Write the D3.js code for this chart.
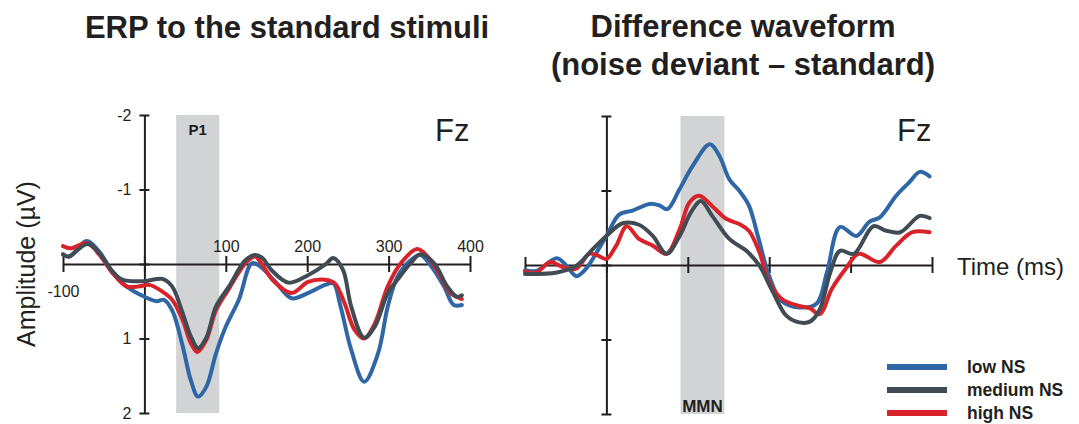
<!DOCTYPE html>
<html>
<head>
<meta charset="utf-8">
<script src="https://cdn.jsdelivr.net/npm/d3@7"></script>
<style>
  body { margin: 0; background: #fff; }
  text { font-family: "Liberation Sans", Arial, sans-serif; fill: #231f20; }
</style>
</head>
<body>
<div id="graph"></div>
<script>
// --- data (time in ms, amplitude in µV; negative plotted upward) ---
var seriesNames = [ 'low NS', 'medium NS', 'high NS' ];
var colours     = [ '#2f67a6', '#414b54', '#d9232a' ];

var timeTicks = [ -100, 0, 100, 200, 300, 400 ];
var ampTicks  = [ -2, -1, 0, 1, 2 ];

var erpLow = [ [-100,-0.13],[-92,-0.1],[-71,-0.31],[-55,-0.16],[-39,0.12],[-22,0.3],[0,0.44],[15,0.5],[24,0.48],
               [34,0.62],[47,1.1],[57,1.56],[66,1.78],[76,1.65],[88,1.2],[100,0.84],[116,0.48],[132,-0.01],[142,0.03],
               [161,0.24],[181,0.46],[201,0.39],[222,0.28],[232,0.26],[241,0.57],[254,1.15],[270,1.58],[287,1.2],
               [299,0.57],[311,0.17],[327,-0.05],[339,-0.12],[351,0.01],[368,0.3],[380,0.55],[390,0.55] ];
var erpMed = [ [-100,-0.13],[-93,-0.1],[-70,-0.27],[-55,-0.14],[-39,0.1],[-27,0.21],[0,0.23],[22,0.2],[34,0.3],
               [47,0.66],[57,0.97],[66,1.13],[76,0.99],[88,0.57],[104,0.3],[124,-0.05],[136,-0.12],[145,-0.08],
               [156,0.08],[177,0.25],[201,0.15],[222,0.01],[232,-0.08],[244,0.08],[254,0.57],[270,0.99],[283,0.84],
               [299,0.39],[311,0.21],[327,-0.01],[339,-0.13],[356,-0.01],[372,0.3],[384,0.44],[390,0.42] ];
var erpHigh = [ [-100,-0.24],[-91,-0.21],[-70,-0.28],[-55,-0.12],[-39,0.12],[-22,0.3],[-6,0.3],[6,0.28],[22,0.37],
                [34,0.48],[47,0.75],[57,1.06],[65,1.18],[76,1.02],[88,0.62],[104,0.33],[124,-0.01],[136,-0.1],[143,-0.02],
                [158,0.22],[181,0.39],[201,0.24],[222,0.21],[234,0.26],[246,0.53],[258,0.88],[270,1.0],[283,0.8],
                [299,0.3],[315,-0.01],[335,-0.2],[348,-0.1],[364,0.17],[376,0.39],[390,0.47] ];

var diffLow = [ [-100,0.07],[-86,0.08],[-61,-0.09],[-49,0.01],[-37,0.15],[-25,0.05],[-12,-0.17],[0,-0.39],[16,-0.68],
                [32,-0.73],[53,-0.82],[65,-0.8],[75,-0.75],[90,-1.02],[106,-1.33],[127,-1.62],[139,-1.46],[151,-1.15],
                [163,-1.0],[175,-0.8],[187,-0.35],[200,0.15],[215,0.48],[237,0.57],[258,0.52],[271,0.1],[287,-0.51],
                [307,-0.39],[323,-0.58],[336,-0.64],[356,-0.93],[372,-1.11],[385,-1.25],[397,-1.19] ];
var diffMed = [ [-100,0.12],[-61,0.1],[-37,0.01],[-17,-0.21],[0,-0.39],[20,-0.56],[40,-0.54],[57,-0.39],[74,-0.15],
                [90,-0.39],[104,-0.71],[116,-0.86],[130,-0.66],[151,-0.35],[172,-0.19],[188,0.01],[204,0.35],[221,0.68],
                [237,0.77],[250,0.76],[262,0.6],[275,0.1],[287,-0.19],[304,-0.15],[328,-0.52],[344,-0.46],[361,-0.44],
                [385,-0.66],[397,-0.63] ];
var diffHigh = [ [-100,0.09],[-86,0.1],[-69,-0.04],[-53,0.03],[-37,0.05],[-21,-0.15],[-9,-0.12],[0,-0.08],[12,-0.26],
                 [25,-0.52],[40,-0.35],[57,-0.26],[74,-0.15],[90,-0.48],[102,-0.84],[114,-0.93],[130,-0.79],[147,-0.62],
                 [163,-0.55],[175,-0.46],[188,-0.17],[200,0.23],[216,0.46],[237,0.55],[250,0.58],[262,0.66],[277,0.32],
                 [294,0.05],[310,-0.15],[336,-0.04],[356,-0.26],[376,-0.44],[397,-0.44] ];

var p1Window  = [ 39, 92 ];
var mmnWindow = [ 91, 145 ];

// --- layout ---
var svg = d3.select('#graph').append('svg')
            .attr('width', 1079)
            .attr('height', 424);

function drawPanel (opts)
{
    var x = d3.scaleLinear().domain([ -100, 400 ]).range(opts.xRange);
    var y = d3.scaleLinear().domain([ -2, 2 ]).range(opts.yRange);
    var g = svg.append('g');

    // shaded window
    g.append('rect')
     .attr('x', x(opts.win[0]))
     .attr('y', y(-2))
     .attr('width', x(opts.win[1]) - x(opts.win[0]))
     .attr('height', y(2) - y(-2))
     .attr('fill', '#d2d3d5');

    g.append('text')
     .attr('x', (x(opts.win[0]) + x(opts.win[1])) / 2)
     .attr('y', opts.winLabelY)
     .attr('text-anchor', 'middle')
     .attr('font-weight', 'bold')
     .attr('font-size', opts.winLabelSize + 'px')
     .text(opts.winLabel);

    // x axis (crossing ticks)
    var xAxis = d3.axisBottom(x)
                  .tickValues(timeTicks)
                  .tickSize(8)
                  .tickSizeOuter(0)
                  .tickFormat(opts.xLabels ? function (d) { return d; } : '');
    var gx = g.append('g')
              .attr('transform', 'translate(0,' + y(0) + ')')
              .call(xAxis);
    gx.select('.domain').attr('stroke', '#231f20').attr('stroke-width', 2);
    gx.selectAll('.tick line').attr('y1', -8).attr('y2', 8).attr('stroke', '#231f20').attr('stroke-width', 2);
    gx.selectAll('.tick text')
      .attr('font-size', '16px')
      .attr('font-family', '"Liberation Sans", Arial, sans-serif')
      .attr('fill', '#333')
      .attr('y', function (d) { return d < 0 ? 22 : -12; })
      .attr('dy', function (d) { return d < 0 ? '0.71em' : '0'; })
      .filter(function (d) { return d === 0; }).remove();

    // y axis (crossing ticks)
    var yAxis = d3.axisLeft(y)
                  .tickValues(ampTicks)
                  .tickSize(5)
                  .tickSizeOuter(0)
                  .tickFormat(opts.yLabels ? function (d) { return d; } : '');
    var gy = g.append('g')
              .attr('transform', 'translate(' + x(0) + ',0)')
              .call(yAxis);
    gy.select('.domain').attr('stroke', '#231f20').attr('stroke-width', 2);
    gy.selectAll('.tick line').attr('x1', 5).attr('x2', -5).attr('stroke', '#231f20').attr('stroke-width', 2);
    gy.selectAll('.tick text')
      .attr('font-size', '16px')
      .attr('font-family', '"Liberation Sans", Arial, sans-serif')
      .attr('fill', '#333')
      .attr('x', -13)
      .filter(function (d) { return d === 0; }).remove();

    // waveforms
    var line = d3.line()
                 .x(function (d) { return x(d[0]); })
                 .y(function (d) { return y(d[1]); })
                 .curve(d3.curveCatmullRom.alpha(0.5));

    // draw order: blue, red, gray on top like the source
    [ 0, 2, 1 ].forEach(function (i) {
        g.append('path')
         .datum(opts.series[i])
         .attr('d', line)
         .attr('fill', 'none')
         .attr('stroke', colours[i])
         .attr('stroke-width', 4)
         .attr('stroke-linejoin', 'round')
         .attr('stroke-linecap', 'round');
    });

    // electrode label
    g.append('text')
     .attr('x', opts.fzX)
     .attr('y', 141)
     .attr('font-size', '31px')
     .text('Fz');

    return { x: x, y: y };
}

drawPanel({
    xRange: [ 63, 470 ], yRange: [ 115, 413 ],
    win: p1Window, winLabel: 'P1', winLabelY: 135, winLabelSize: 15,
    xLabels: true, yLabels: true,
    series: [ erpLow, erpMed, erpHigh ],
    fzX: 435
});

drawPanel({
    xRange: [ 525, 932 ], yRange: [ 116, 414 ],
    win: mmnWindow, winLabel: 'MMN', winLabelY: 412, winLabelSize: 17,
    xLabels: false, yLabels: false,
    series: [ diffLow, diffMed, diffHigh ],
    fzX: 897
});

// titles
svg.append('text')
   .attr('x', 287).attr('y', 38)
   .attr('text-anchor', 'middle')
   .attr('font-weight', 'bold')
   .attr('font-size', '31px')
   .text('ERP to the standard stimuli');

svg.append('text')
   .attr('x', 743).attr('y', 37)
   .attr('text-anchor', 'middle')
   .attr('font-weight', 'bold')
   .attr('font-size', '31px')
   .text('Difference waveform');

svg.append('text')
   .attr('x', 743).attr('y', 75)
   .attr('text-anchor', 'middle')
   .attr('font-weight', 'bold')
   .attr('font-size', '31px')
   .text('(noise deviant \u2013 standard)');

// axis titles
svg.append('text')
   .attr('transform', 'translate(35,264) rotate(-90)')
   .attr('text-anchor', 'middle')
   .attr('font-size', '25px')
   .text('Amplitude (\u00b5V)');

svg.append('text')
   .attr('x', 957).attr('y', 275)
   .attr('font-size', '24px')
   .text('Time (ms)');

// legend
var legend = svg.append('g');
seriesNames.forEach(function (name, i) {
    var ly = 367 + i * 23;
    legend.append('line')
          .attr('x1', 887).attr('x2', 947)
          .attr('y1', ly).attr('y2', ly)
          .attr('stroke', colours[i])
          .attr('stroke-width', 6);
    legend.append('text')
          .attr('x', 967).attr('y', ly + 6)
          .attr('font-weight', 'bold')
          .attr('font-size', '17.5px')
          .text(name);
});
</script>
</body>
</html>
